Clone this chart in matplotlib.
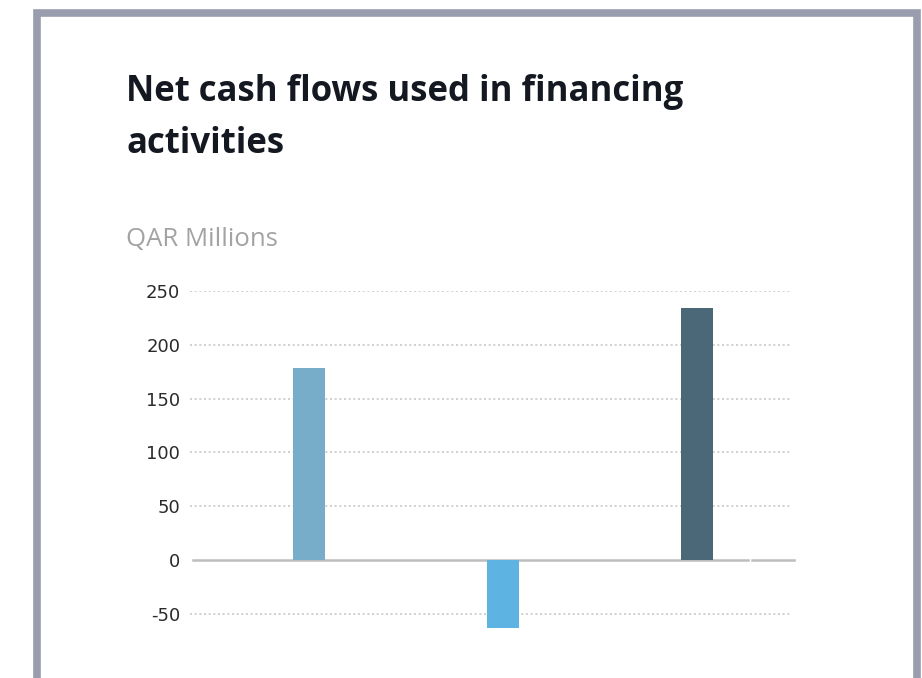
import matplotlib
matplotlib.use("Agg")
import matplotlib.pyplot as plt
from matplotlib.patches import Rectangle

# data (QAR millions)
years = ["2019", "2020", "2021"]
values = [178, -63, 234]
colors = ["#77adc8", "#5db3e2", "#4a6878"]
yticks = [-50, 0, 50, 100, 150, 200, 250]

W, H = 922, 678
fig = plt.figure(figsize=(W / 100, H / 100), dpi=100)

# grey card border
fig.patches.append(Rectangle((36.5 / W, -0.05), 880 / W, 1.05 - 13 / H,
                             transform=fig.transFigure, fill=False,
                             edgecolor="#9a9dad", linewidth=5.5))

# title and unit label
title_font = ["Open Sans", "DejaVu Sans"]
fig.text(126 / W, 1 - 101 / H, "Net cash flows used in financing", fontsize=25,
         fontweight="bold", family=title_font, color="#141821", va="baseline")
fig.text(126 / W, 1 - 153 / H, "activities", fontsize=25,
         fontweight="bold", family=title_font, color="#141821", va="baseline")
fig.text(126 / W, 1 - 246 / H, "QAR Millions", fontsize=18.5,
         family=title_font, color="#a3a3a3", va="baseline")

# plot area: y=250 at px 291, y=0 at px 560
ymin, ymax = -75, 250
px_per = (560 - 291) / 250
bottom_px = 560 + (0 - ymin) * px_per
ax = fig.add_axes([190 / W, 1 - bottom_px / H, 600 / W, (bottom_px - 291) / H])

x = list(range(len(values)))
ax.bar(x, values, width=0.165, color=colors, zorder=3)
ax.set_xlim(-0.616, 2.477)
ax.set_ylim(ymin, ymax)

ax.set_yticks(yticks)
ax.set_yticklabels([str(t) for t in yticks], fontsize=13,
                   family="DejaVu Sans", color="#2a2a2a")
ax.tick_params(axis="y", length=0, pad=7)
ax.set_xticks([])
for s in ax.spines.values():
    s.set_visible(False)

for t in yticks:
    if t != 0:
        ax.axhline(t, color="#c8c8c8", linestyle=(0, (1.2, 1.6)), linewidth=1.2, zorder=1)

# zero line in two pieces
ax.plot([-0.60, 2.26], [0, 0], color="#bdbdbd", linewidth=1.8, zorder=2, clip_on=False)
ax.plot([2.28, 2.50], [0, 0], color="#bdbdbd", linewidth=1.8, zorder=2, clip_on=False)

fig.savefig("out.png", dpi=100)
